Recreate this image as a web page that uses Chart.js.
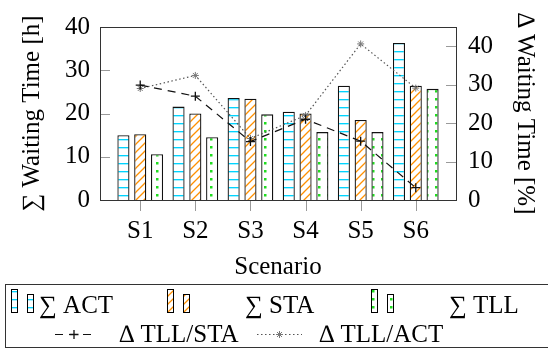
<!DOCTYPE html>
<html>
<head>
<meta charset="utf-8">
<script src="https://cdn.jsdelivr.net/npm/chart.js@4.4.1/dist/chart.umd.min.js"></script>
<style>
  html, body { margin: 0; padding: 0; background: #fff; }
  canvas { display: block; }
</style>
</head>
<body>
<canvas id="chart" width="548" height="349"></canvas>
<script>
// values
const scenarios = ['S1', 'S2', 'S3', 'S4', 'S5', 'S6'];
const scenarioPos = [1, 2, 3, 4, 5, 6];
const sumAct = [15.0, 21.6, 23.6, 20.4, 26.4, 36.3];
const sumSta = [15.2, 20.0, 23.4, 20.0, 18.5, 26.4];
const sumTll = [10.6, 14.5, 19.8, 15.7, 15.7, 25.7];
const deltaTllSta = [29.9, 27.0, 15.2, 21.0, 15.3, 3.2];
const deltaTllAct = [29.0, 32.4, 16.0, 22.0, 40.6, 29.1];
const leftTicks = [0, 5, 10, 15, 20, 25, 30, 35, 40];
const rightTicks = [0, 5, 10, 15, 20, 25, 30, 35, 40, 45];

const FONT = '"Liberation Serif", "DejaVu Serif", serif';
Chart.defaults.font.family = FONT;
Chart.defaults.font.size = 25;
Chart.defaults.color = '#000';

// --- fill patterns ---
function makePattern(w, h, draw) {
    const c = document.createElement('canvas');
    c.width = w; c.height = h;
    const g = c.getContext('2d');
    g.fillStyle = '#ffffff';
    g.fillRect(0, 0, w, h);
    draw(g);
    return g.createPattern(c, 'repeat');
}

const actFill = makePattern(8, 8, g => {
    g.fillStyle = '#00d4ff';
    g.fillRect(0, 3, 8, 1);
    g.fillStyle = 'rgba(0,212,255,0.35)';
    g.fillRect(0, 4, 8, 1);
});
const staFill = makePattern(8, 8, g => {
    g.strokeStyle = '#ff9000';
    g.lineWidth = 1.3;
    g.beginPath();
    g.moveTo(-1, 9); g.lineTo(9, -1);
    g.moveTo(-1, 1); g.lineTo(1, -1);
    g.moveTo(7, 9); g.lineTo(9, 7);
    g.stroke();
});
const tllFill = makePattern(9, 8, g => {
    g.fillStyle = '#1fdc1f';
    g.fillRect(3, 2, 2.5, 2.5);
});

const pts = arr => scenarioPos.map((x, i) => ({ x: x, y: arr[i] }));

// --- inward ticks and plot frame ---
const frameAndTicks = {
    id: 'frameAndTicks',
    afterDatasetsDraw(chart) {
        const { ctx, chartArea: a, scales } = chart;
        ctx.save();
        ctx.strokeStyle = '#9a9a9a';
        ctx.lineWidth = 1;
        ctx.beginPath();
        scales.y.ticks.forEach(t => {
            const py = Math.round(scales.y.getPixelForValue(t.value)) + 0.5;
            ctx.moveTo(a.left, py); ctx.lineTo(a.left + 10, py);
        });
        scales.y1.ticks.forEach(t => {
            const py = Math.round(scales.y1.getPixelForValue(t.value)) + 0.5;
            ctx.moveTo(a.right - 10, py); ctx.lineTo(a.right, py);
        });
        scales.x.ticks.forEach(t => {
            const px = Math.round(scales.x.getPixelForValue(t.value)) + 0.5;
            ctx.moveTo(px, a.bottom); ctx.lineTo(px, a.bottom + 11);
        });
        ctx.stroke();
        ctx.strokeStyle = '#333';
        ctx.strokeRect(Math.round(a.left) + 0.5, Math.round(a.top) + 0.5,
            Math.round(a.right - a.left), Math.round(a.bottom - a.top));
        ctx.restore();
    }
};

// --- legend box below the plot ---
const legendBox = {
    id: 'legendBox',
    afterDraw(chart) {
        const ctx = chart.ctx;
        const ds = chart.data.datasets;
        ctx.save();
        ctx.strokeStyle = '#333';
        ctx.lineWidth = 1;
        ctx.strokeRect(5.5, 284.5, 560, 63);
        ctx.font = '25px ' + FONT;
        ctx.fillStyle = '#000';
        ctx.textBaseline = 'alphabetic';

        const barSlots = [{ icon: 11, text: 39 }, { icon: 167, text: 245 }, { icon: 371, text: 449 }];
        barSlots.forEach((s, i) => {
            const d = ds[i];
            [[s.icon, 289.5, 23], [s.icon + 16, 294.5, 18]].forEach(([x, y, h]) => {
                ctx.fillStyle = d.backgroundColor;
                ctx.fillRect(x + 0.5, y, 6, h);
                ctx.strokeStyle = '#000';
                ctx.lineWidth = 1;
                ctx.strokeRect(x + 0.5, y, 6, h);
            });
            ctx.fillStyle = '#000';
            ctx.fillText(d.label, s.text, 313);
        });

        const lineSlots = [{ x0: 55, x1: 93, text: 119 }, { x0: 257, x1: 302, text: 319 }];
        lineSlots.forEach((s, i) => {
            const d = ds[3 + i];
            const y = 334.5;
            ctx.strokeStyle = d.borderColor;
            ctx.lineWidth = d.borderWidth;
            ctx.setLineDash(d.borderDash);
            ctx.beginPath();
            ctx.moveTo(s.x0, y); ctx.lineTo(s.x1, y);
            ctx.stroke();
            ctx.setLineDash([]);
            ctx.strokeStyle = d.pointBorderColor;
            ctx.fillStyle = d.pointBackgroundColor;
            ctx.lineWidth = d.pointBorderWidth;
            Chart.helpers.drawPoint(ctx, {
                pointStyle: d.pointStyle, radius: d.pointRadius,
                borderWidth: d.pointBorderWidth, rotation: 0
            }, (s.x0 + s.x1) / 2, y);
            ctx.fillStyle = '#000';
            ctx.fillText(d.label, s.text, 342);
        });
        ctx.restore();
    }
};

const barStyle = {
    borderColor: '#111',
    borderWidth: 1.3,
    categoryPercentage: 0.915,
    barPercentage: 0.72,
    yAxisID: 'y'
};

new Chart(document.getElementById('chart'), {
    type: 'bar',
    data: {
        datasets: [
            Object.assign({ label: '∑ ACT', data: pts(sumAct), backgroundColor: actFill }, barStyle),
            Object.assign({ label: '∑ STA', data: pts(sumSta), backgroundColor: staFill }, barStyle),
            Object.assign({ label: '∑ TLL', data: pts(sumTll), backgroundColor: tllFill }, barStyle),
            {
                type: 'line', label: '∆ TLL/STA', data: pts(deltaTllSta), yAxisID: 'y1', order: -1,
                borderColor: '#111', borderWidth: 1.2, borderDash: [8, 6], fill: false,
                pointStyle: 'cross', pointRadius: 4.5, pointBorderWidth: 1.3,
                pointBorderColor: '#111', pointBackgroundColor: '#111'
            },
            {
                type: 'line', label: '∆ TLL/ACT', data: pts(deltaTllAct), yAxisID: 'y1', order: -1,
                borderColor: '#555', borderWidth: 1.2, borderDash: [1.5, 2.5], fill: false,
                pointStyle: 'star', pointRadius: 3.5, pointBorderWidth: 1,
                pointBorderColor: '#777', pointBackgroundColor: '#777'
            }
        ]
    },
    options: {
        responsive: false,
        animation: false,
        layout: { padding: { top: 17, left: 0, right: 0, bottom: 0 } },
        plugins: { legend: { display: false }, tooltip: { enabled: false } },
        scales: {
            x: {
                type: 'linear',
                min: 0.27, max: 6.73,
                offset: false,
                grid: { display: false, drawTicks: false },
                border: { display: false },
                afterBuildTicks: s => { s.ticks = scenarioPos.map(v => ({ value: v })); },
                afterFit: s => { s.height = 149; },
                ticks: { padding: 16, callback: v => scenarios[Math.round(v) - 1] },
                title: { display: true, text: 'Scenario', padding: { top: 0, bottom: 67 } }
            },
            y: {
                position: 'left',
                min: 0, max: 40,
                grid: { display: false, drawTicks: false },
                border: { display: false },
                afterBuildTicks: s => { s.ticks = leftTicks.map(v => ({ value: v })); },
                afterFit: s => { s.width = 100; },
                ticks: { padding: 10 },
                title: { display: true, text: '∑ Waiting Time [h]', padding: { top: 17, bottom: 0 } }
            },
            y1: {
                position: 'right',
                min: 0, max: 45,
                grid: { display: false, drawTicks: false },
                border: { display: false },
                afterBuildTicks: s => { s.ticks = rightTicks.map(v => ({ value: v })); },
                afterFit: s => { s.width = 92; },
                ticks: { padding: 12 },
                title: { display: true, text: '∆ Waiting Time [%]', padding: { top: 8, bottom: 0 } }
            }
        }
    },
    plugins: [frameAndTicks, legendBox]
});
</script>
</body>
</html>
